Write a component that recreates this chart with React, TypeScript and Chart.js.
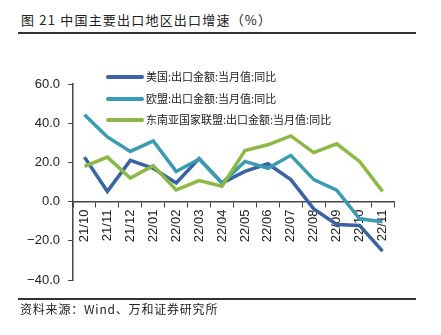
import React, { useEffect, useRef } from "react";
import { Chart, registerables } from "chart.js";

Chart.register(...registerables);

const categories = ["21/10", "21/11", "21/12", "22/01", "22/02", "22/03", "22/04", "22/05", "22/06", "22/07", "22/08", "22/09", "22/10", "22/11"];
const usValues = [22.7, 5.2, 21.0, 17.0, 9.5, 22.0, 9.5, 15.4, 19.3, 11.2, -3.7, -11.7, -12.2, -25.3];
const euValues = [44.3, 33.0, 25.6, 31.0, 15.4, 21.7, 9.5, 20.5, 17.0, 23.6, 11.2, 5.8, -8.8, -10.3];
const aseanValues = [18.0, 22.7, 12.0, 18.3, 6.0, 10.7, 7.8, 26.0, 29.0, 33.5, 25.0, 29.5, 20.5, 5.2];
const seriesNames = ["美国:出口金额:当月值:同比", "欧盟:出口金额:当月值:同比", "东南亚国家联盟:出口金额:当月值:同比"];
const seriesColors = ["#3B63A3", "#3A9CB2", "#8CB946"];
const yMin = -40;
const yMax = 60;
const yStep = 20;

const CJK = '"Noto Sans CJK SC", "Liberation Sans", sans-serif';
const LAT = '"Liberation Sans", Arial, sans-serif';

const legendPlugin = {
  id: "customLegend",
  afterDraw(chart: any) {
    const { ctx, chartArea } = chart;
    ctx.save();
    const x0 = chartArea.left + 35;
    const x1 = chartArea.left + 69;
    const rows = [chartArea.top - 7, chartArea.top + 15, chartArea.top + 36];
    seriesNames.forEach((name, i) => {
      ctx.strokeStyle = seriesColors[i];
      ctx.lineWidth = 4;
      ctx.lineCap = "round";
      ctx.beginPath();
      ctx.moveTo(x0, rows[i]);
      ctx.lineTo(x1, rows[i]);
      ctx.stroke();
      ctx.fillStyle = "#222";
      ctx.font = "11px " + CJK;
      ctx.textBaseline = "middle";
      ctx.textAlign = "left";
      ctx.fillText(name, x1 + 4, rows[i]);
    });
    ctx.restore();
  },
};

export default function App() {
  const ref = useRef<HTMLCanvasElement>(null);
  useEffect(() => {
    if (!ref.current) return;
    const mk = (data: number[], i: number) => ({
      label: seriesNames[i],
      data,
      borderColor: seriesColors[i],
      backgroundColor: seriesColors[i],
      borderWidth: 3.5,
      pointRadius: 0,
      tension: 0,
      fill: false,
    });
    const chart = new Chart(ref.current, {
      type: "line",
      data: {
        labels: categories,
        datasets: [mk(aseanValues, 2), mk(euValues, 1), mk(usValues, 0)],
      },
      plugins: [legendPlugin],
      options: {
        animation: false,
        responsive: false,
        maintainAspectRatio: false,
        layout: { padding: { left: 0, right: 47, top: 84, bottom: 55 } },
        plugins: { legend: { display: false }, tooltip: { enabled: false }, title: { display: false } },
        scales: {
          x: {
            type: "category",
            position: { y: 0 } as any,
            offset: true,
            grid: { display: true, drawOnChartArea: false, drawTicks: true, tickLength: 5, color: "#444", offset: true },
            border: { display: true, color: "#444", width: 1.5 },
            ticks: {
              autoSkip: false,
              minRotation: 90,
              maxRotation: 90,
              padding: 3,
              color: "#222",
              font: { family: LAT, size: 13 },
            },
          },
          y: {
            min: yMin,
            max: yMax,
            afterFit(scale: any) {
              scale.width = 73;
            },
            grid: { display: true, drawOnChartArea: false, drawTicks: true, tickLength: 5, color: "#444" },
            border: { display: true, color: "#444", width: 1.5 },
            ticks: {
              stepSize: yStep,
              padding: 8,
              color: "#222",
              font: { family: LAT, size: 13 },
              callback: (v: any) => (Number(v) < 0 ? "\u2212" : "") + Math.abs(Number(v)).toFixed(1),
            },
          },
        },
      },
    });
    return () => chart.destroy();
  }, []);

  return (
    <div style={{ position: "fixed", left: 0, top: 0, width: 441, height: 335, background: "#fff" }}>
      <div
        style={{
          position: "absolute",
          left: 21,
          top: 11,
          fontFamily: CJK,
          fontSize: 13,
          letterSpacing: "1.2px",
          color: "#222",
          whiteSpace: "nowrap",
          lineHeight: "18px",
        }}
      >
        图 21 中国主要出口地区出口增速（%）
      </div>
      <div style={{ position: "absolute", left: 18, top: 32, width: 398, height: 1.5, background: "#333" }} />
      <canvas ref={ref} width={441} height={335} style={{ position: "absolute", left: 0, top: 0 }} />
      <div style={{ position: "absolute", left: 18, top: 298, width: 398, height: 1.5, background: "#333" }} />
      <div
        style={{
          position: "absolute",
          left: 20,
          top: 300,
          fontFamily: CJK,
          fontSize: 12,
          color: "#222",
          whiteSpace: "nowrap",
          lineHeight: "18px",
          letterSpacing: "0.8px",
        }}
      >
        资料来源：Wind、万和证券研究所
      </div>
    </div>
  );
}
